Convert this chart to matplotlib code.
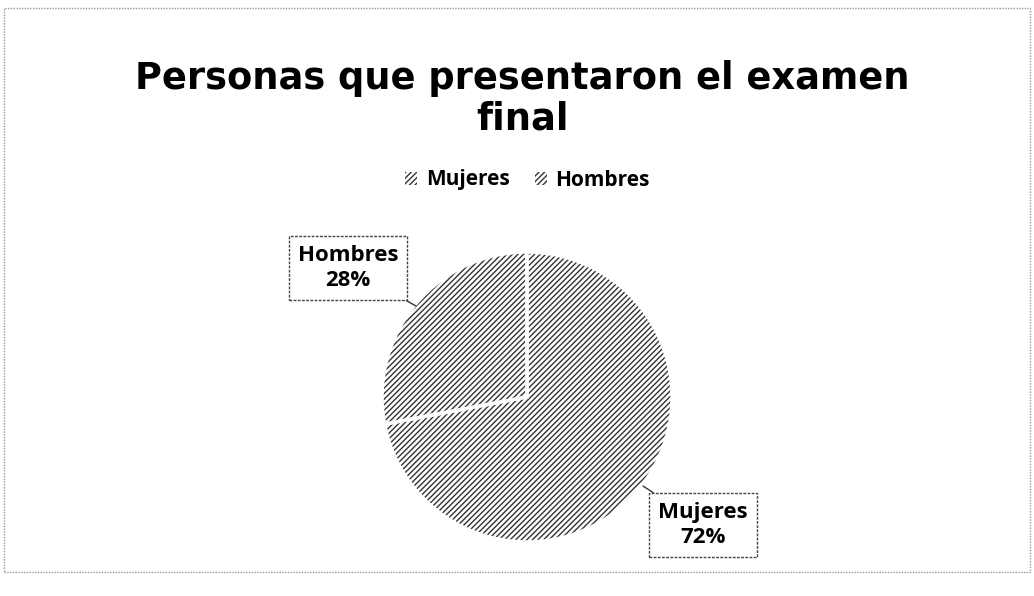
import matplotlib.pyplot as plt
from matplotlib.patches import Rectangle

# --- Data ---
labels = ["Mujeres", "Hombres"]
values = [72, 28]
title = "Personas que presentaron el examen\nfinal"

plt.rcParams['hatch.linewidth'] = 1.0

fig = plt.figure(figsize=(10.34, 5.96), dpi=100)

# thin dotted frame like the scanned chart area
fig.patches.append(Rectangle((0.004, 0.04), 0.992, 0.947, transform=fig.transFigure,
                             fill=False, edgecolor='#999999', linestyle=(0, (1, 1)),
                             linewidth=1.0))

fig.text(0.505, 1 - 137 / 596, title, ha='center', va='bottom', fontsize=26.5,
         fontweight='bold', family='DejaVu Sans', linespacing=1.1)

# pie axes: center ~ (527, 397) px, radius ~ 145 px
cx, cy, r = 527 / 1034, 1 - 397 / 596, 145
w = 2 * r / 1034
h = 2 * r / 596
ax = fig.add_axes([cx - w / 2, cy - h / 2, w, h])
# hatched slices (dark hatch lines, no outline)
wedges, _ = ax.pie(values, startangle=90, counterclock=False,
                   colors=['white', 'white'],
                   wedgeprops=dict(edgecolor='#333333', linewidth=0, hatch='//////'))
# white separators between slices
ax.pie(values, startangle=90, counterclock=False,
       wedgeprops=dict(facecolor='none', edgecolor='white', linewidth=2.5))
ax.set_xlim(-1, 1)
ax.set_ylim(-1, 1)
ax.set_aspect('equal')

# legend
fig.legend(wedges, labels, loc='center', bbox_to_anchor=(0.51, 1 - 180 / 596),
           ncol=2, frameon=False, prop=dict(family='Open Sans', weight='bold', size=15),
           handlelength=0.6, handleheight=0.6, columnspacing=1.2, handletextpad=0.4)

# data labels with callout boxes
box = dict(boxstyle='square,pad=0.4', facecolor='white', edgecolor='#444444',
           linestyle=(0, (2, 1)), linewidth=1.0)
label_pos = {"Hombres": (348, 268), "Mujeres": (703, 525)}
edge_pts = {"Hombres": (416, 306), "Mujeres": (643, 486)}
for lab, val in zip(labels, values):
    lx, ly = label_pos[lab]
    ex, ey = edge_pts[lab]
    ax.annotate(f"{lab}\n{val}%",
                xy=(ex / 1034, 1 - ey / 596), xycoords='figure fraction',
                xytext=(lx / 1034, 1 - ly / 596), textcoords='figure fraction',
                ha='center', va='center', fontsize=16, fontweight='bold',
                family='Open Sans', linespacing=1.25, bbox=box,
                arrowprops=dict(arrowstyle='-', color='#333333', linewidth=1.0,
                                shrinkA=0, shrinkB=0))

fig.savefig("out.png", dpi=100)
